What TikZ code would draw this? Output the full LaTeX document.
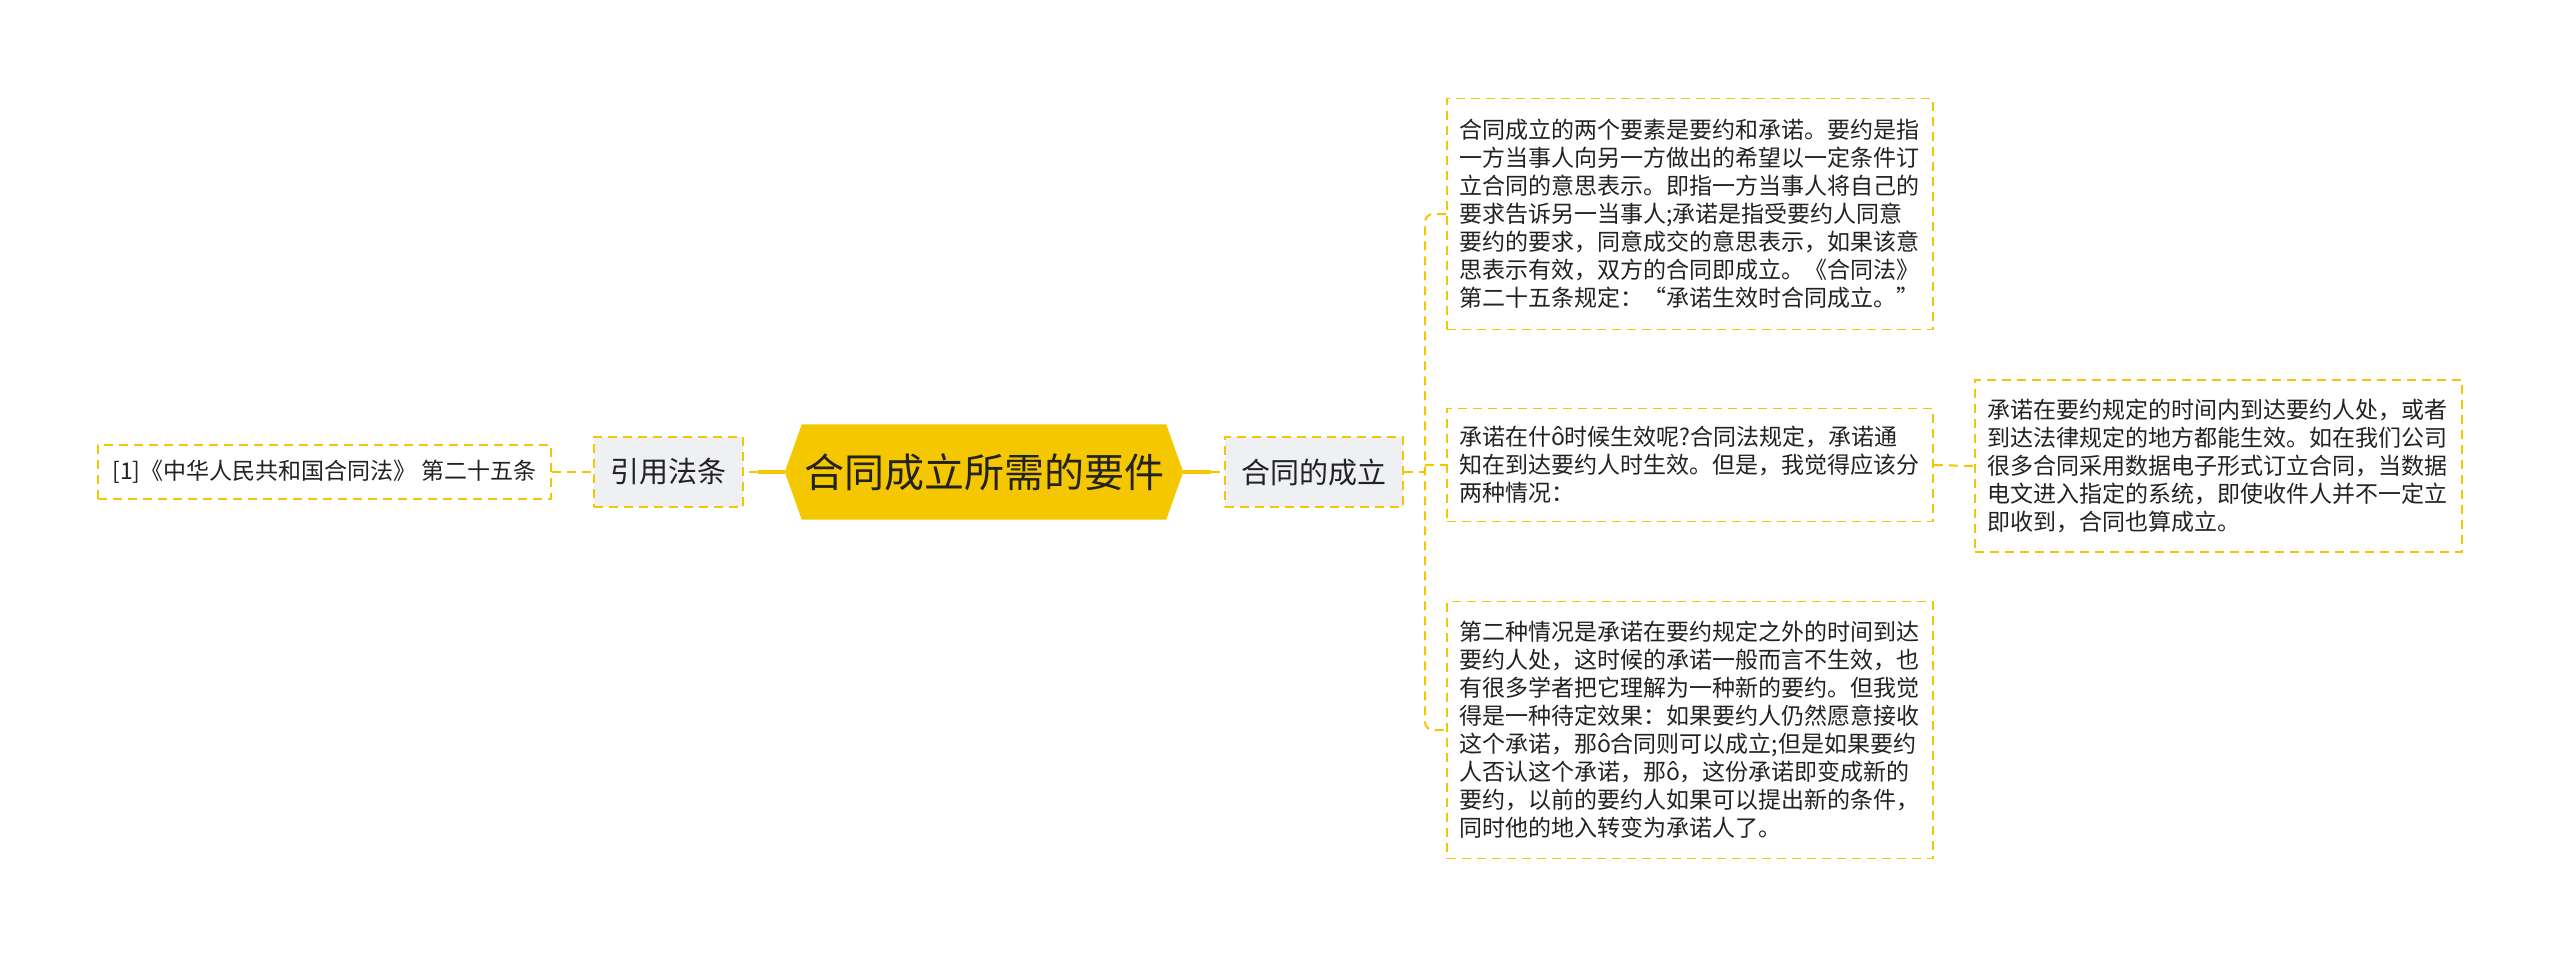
\documentclass[tikz,border=0pt]{standalone}
\usepackage{fontspec}
\setmainfont{Noto Sans CJK SC}
\usetikzlibrary{calc,backgrounds}
\definecolor{myyellow}{HTML}{F5C700}
\definecolor{boxgray}{HTML}{EEF0F3}
\definecolor{txt}{HTML}{222222}
\begin{document}
\begin{tikzpicture}[x=1pt,y=-1pt,
  every node/.style={text=txt, inner sep=0pt},
  dbox/.style={draw=myyellow, line width=1.8pt, dash pattern=on 9pt off 6pt},
  leaf/.style={dbox, fill=white, align=left, inner xsep=12pt, font=\fontsize{23}{28}\selectfont},
  midbox/.style={dbox, fill=boxgray, font=\fontsize{29}{34}\selectfont},
  conn/.style={draw=myyellow, line width=2pt, dash pattern=on 9pt off 6pt},
  trunkline/.style={draw=myyellow, line width=4pt}
]
\useasboundingbox (0,0) rectangle (2560,961);
\begin{scope}[on background layer]
  \fill[white] (0,0) rectangle (2560,961);
\end{scope}

% root
\node[font=\fontsize{40}{46}\selectfont, minimum width=398, minimum height=95] (root) at (984,472) {合同成立所需的要件};
\begin{scope}[on background layer]
  \fill[myyellow] (root.west) -- ($(root.north west)+(17,0)$) -- ($(root.north east)+(-17,0)$) -- (root.east)
    -- ($(root.south east)+(-17,0)$) -- ($(root.south west)+(17,0)$) -- cycle;
\end{scope}

% level 1
\node[midbox, minimum width=149, minimum height=70] (cite) at (668.5,472) {引用法条};
\node[midbox, minimum width=178, minimum height=70] (l1) at (1314,472) {合同的成立};

% reference leaf
\node[dbox, fill=white, font=\fontsize{23}{28}\selectfont, minimum width=453, minimum height=54] (ref) at (324.5,472) {[1]《中华人民共和国合同法》 第二十五条};

% right leaves
\node[leaf, text width=462, minimum height=231] (t1) at (1690,214) {合同成立的两个要素是要约和承诺。要约是指\\
一方当事人向另一方做出的希望以一定条件订\\
立合同的意思表示。即指一方当事人将自己的\\
要求告诉另一当事人;承诺是指受要约人同意\\
要约的要求，同意成交的意思表示，如果该意\\
思表示有效，双方的合同即成立。《合同法》\\
第二十五条规定：“承诺生效时合同成立。”};

\node[leaf, text width=462, minimum height=113] (t2) at (1690,465) {承诺在什ô时候生效呢?合同法规定，承诺通\\
知在到达要约人时生效。但是，我觉得应该分\\
两种情况：};

\node[leaf, text width=462, minimum height=257] (t3) at (1690,730) {第二种情况是承诺在要约规定之外的时间到达\\
要约人处，这时候的承诺一般而言不生效，也\\
有很多学者把它理解为一种新的要约。但我觉\\
得是一种待定效果：如果要约人仍然愿意接收\\
这个承诺，那ô合同则可以成立;但是如果要约\\
人否认这个承诺，那ô，这份承诺即变成新的\\
要约，以前的要约人如果可以提出新的条件，\\
同时他的地入转变为承诺人了。};

\node[leaf, text width=463, minimum height=172] (r1) at (2218.5,466) {承诺在要约规定的时间内到达要约人处，或者\\
到达法律规定的地方都能生效。如在我们公司\\
很多合同采用数据电子形式订立合同，当数据\\
电文进入指定的系统，即使收件人并不一定立\\
即收到，合同也算成立。};

% connectors
\coordinate (j) at (1425,472);
\draw[trunkline] (root.east) -- ($(l1.west)+(-13,0)$);
\draw[conn] ($(l1.west)+(-13,0)$) -- (l1.west);
\draw[trunkline] (root.west) -- ($(cite.east)+(14,0)$);
\draw[conn] ($(cite.east)+(14,0)$) -- (cite.east);
\draw[conn] (ref.east) -- (cite.west);
\draw[conn] (l1.east) -- (j);
\draw[conn, rounded corners=8pt] (t1.west) -| (j) |- (t3.west);
\draw[conn] (j |- t2.west) -- (t2.west);
\draw[conn] (t2.east) -- (r1.west);
\end{tikzpicture}
\end{document}
